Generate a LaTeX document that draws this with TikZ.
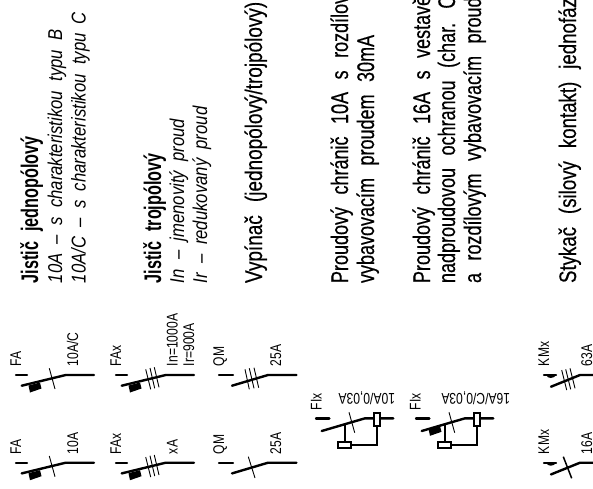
\documentclass[tikz,border=0pt]{standalone}
\usepackage{fontspec}
\setmainfont{Liberation Sans}
\newfontfamily\fbody[FakeStretch=0.75,WordSpace=2.5,FakeBold=0.4]{Liberation Sans}
\newfontfamily\fmid[FakeStretch=0.778,WordSpace=2.5,FakeBold=0.4]{Liberation Sans}
\newfontfamily\fwide[FakeStretch=0.79,WordSpace=2.5,FakeBold=0.4]{Liberation Sans}
\newfontfamily\fhead[FakeStretch=0.675,WordSpace=2.2]{Liberation Sans}
\newfontfamily\fsub[FakeStretch=0.835,WordSpace=2.0]{Liberation Sans}
\newfontfamily\flab[FakeStretch=0.78]{Liberation Sans}
\tikzset{
 x=1pt,y=-1pt,
 wire/.style={line width=2.4pt,line cap=round,black},
 thin wire/.style={line width=0.9pt,black},
 lab/.style={rotate=90,anchor=base west,inner sep=0pt,outer sep=0pt,font=\fontsize{15.5}{15.5}\flab},
 flip/.style={rotate=180,anchor=base west,inner sep=0pt,outer sep=0pt,font=\fontsize{15.5}{15.5}\flab},
 head/.style={rotate=90,anchor=base west,inner sep=0pt,outer sep=0pt,font=\fontsize{24}{24}\fhead\bfseries},
 sub/.style={rotate=90,anchor=base west,inner sep=0pt,outer sep=0pt,font=\fontsize{20}{20}\fsub\itshape},
 body/.style={rotate=90,anchor=base west,inner sep=0pt,outer sep=0pt,font=\fontsize{24}{24}\fbody},
 bodymid/.style={rotate=90,anchor=base west,inner sep=0pt,outer sep=0pt,font=\fontsize{24}{24}\fmid},
 bodywide/.style={rotate=90,anchor=base west,inner sep=0pt,outer sep=0pt,font=\fontsize{24}{24}\fwide},
 rcdbox/.style={draw,line width=1.8pt,fill=white},
}
\begin{document}
\begin{tikzpicture}
\useasboundingbox (0,0) rectangle (593,488);
\clip (0,0) rectangle (593,488);
% texts
\node[head] (t1) at (38,283) {Jistič jednopólový};
\node[sub] (t2) at (62,283) {10A – s charakteristikou typu B};
\node[sub] (t3) at (85.5,283) {10A/C – s charakteristikou typu C};
\node[head] (t4) at (161,283) {Jistič trojpólový};
\node[sub] (t5) at (184,283) {In – jmenovitý proud};
\node[sub] (t6) at (207,283) {Ir – redukovaný proud};
\node[bodywide] (t7) at (262,283) {Vypínač (jednopólový/trojpólový)};
\node[body] (t8) at (348,283) {Proudový chránič 10A s rozdílov};
\node[body] (t9) at (374,283) {vybavovacím proudem 30mA};
\node[body] (t10) at (430,283) {Proudový chránič 16A s vestavě};
\node[body] (t11) at (455,283) {nadproudovou ochranou (char. C};
\node[body] (t12) at (481,283) {a rozdílovým vybavovacím proud};
\node[bodymid] (t13) at (576,283) {Stykač (silový kontakt) jednofáz};
% labels
\node[lab] (a1) at (21,454) {FA};
\node[lab] (a2) at (78,454) {10A};
\node[lab] (a3) at (21,366) {FA};
\node[lab] (a4) at (78,366) {10A/C};
\node[lab] (b1) at (121,454) {FAx};
\node[lab] (b2) at (177.7,454) {xA};
\node[lab] (b3) at (121,366) {FAx};
\node[lab] (b4) at (177.7,366) {In=1000A};
\node[lab] (b5) at (194,366) {Ir=900A};
\node[lab] (c1) at (224,454) {QM};
\node[lab] (c2) at (281,454) {25A};
\node[lab] (c3) at (224,366) {QM};
\node[lab] (c4) at (281,366) {25A};
\node[lab] (d1) at (321.7,410) {FIx};
\node[flip] (d2) at (395,393.5) {10A/0,03A};
\node[lab] (e1) at (420.7,410) {FIx};
\node[flip] (e2) at (510,393.5) {16A/C/0,03A};
\node[lab] (f1) at (549,454) {KMx};
\node[lab] (f2) at (592,454) {16A};
\node[lab] (f3) at (549,366) {KMx};
\node[lab] (f4) at (592,366) {63A};
% breaker 1p
\foreach \ya in {462.7,375}{
 \begin{scope}[shift={(0,\ya)}]
  \fill (28.5,10.5) -- (40,7.5) -- (41.5,13.5) -- (30,17.5) -- cycle;
  \draw[wire] (16,0) -- (27,0);
  \draw[wire] (21.7,10.7) -- (65.7,0) -- (94,0);
  \draw[thin wire] (49.3,-6.7) -- (55,14);
 \end{scope}
}
% breaker 3p
\foreach \ya in {462.7,375}{
 \begin{scope}[shift={(100,\ya)}]
  \fill (28.5,10.5) -- (40,7.5) -- (41.5,13.5) -- (30,17.5) -- cycle;
  \draw[wire] (16,0) -- (27,0);
  \draw[wire] (21.7,10.7) -- (65.7,0) -- (94,0);
  \draw[thin wire] (45.7,-5.7) -- (50.7,14.3);
  \draw[thin wire] (50,-7) -- (54.7,13.3);
  \draw[thin wire] (54.3,-7.7) -- (59,12.3);
 \end{scope}
}
% switch
\foreach \ya in {462.7,375}{
 \draw[wire] (219,\ya) -- (233,\ya);
 \draw[wire] (232,\ya+10.7) -- (268,\ya) -- (296.5,\ya);
}
\draw[thin wire] (248.3,456.7) -- (255,478);
\draw[thin wire] (245,369.3) -- (249.3,389.3);
\draw[thin wire] (249.3,368.3) -- (254,388.3);
\draw[thin wire] (254,367.7) -- (258.7,387.7);
% RCD
\foreach \xa in {0,100}{
 \begin{scope}[shift={(\xa,418.3)}]
  \draw[wire] (316,0) -- (329.3,0);
  \draw[wire] (321.7,12.7) -- (365,0) -- (393.3,0);
  \draw[thin wire] (349,-6) -- (354.7,14.4);
  \draw[line width=1.8pt] (345,6) -- (345,25);
  \draw[line width=1.8pt] (351.7,26.7) -- (377.3,26.7) -- (377.3,6);
  \node[rcdbox,minimum width=6pt,minimum height=13pt,inner sep=0pt] (r\xa) at (377,1.2) {};
  \node[rcdbox,minimum width=13pt,minimum height=6pt,inner sep=0pt] (s\xa) at (344.7,26.7) {};
 \end{scope}
}
\fill (428.5,428.8) -- (440,425.8) -- (441.5,431.8) -- (430,435.8) -- cycle;
% contactor
\foreach \ya in {462.7,375}{
 \draw[wire] (544,\ya) -- (556,\ya);
 \fill (546,\ya) .. controls (548,\ya+4) and (553,\ya+4) .. (556.5,\ya) -- cycle;
 \draw[wire] (551,\ya+11.7) -- (580,\ya) -- (593,\ya);
}
\draw[line width=1.5pt] (563.3,456.7) -- (571.7,478.3);
\draw[thin wire] (561.7,370) -- (566.7,390);
\draw[thin wire] (565.7,369.3) -- (570.7,389.3);
\draw[thin wire] (570,368.3) -- (575,388.3);
\end{tikzpicture}
\end{document}
